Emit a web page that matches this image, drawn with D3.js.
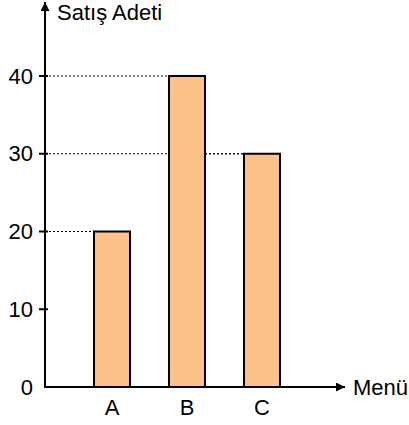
<!DOCTYPE html>
<html>
<head>
<meta charset="utf-8">
<script src="https://cdn.jsdelivr.net/npm/d3@7"></script>
<style>
  body { margin: 0; background: #fff; }
  text { font-family: "Liberation Sans", Arial, sans-serif; fill: #000; }
</style>
</head>
<body>
<div id="chart"></div>
<script>
// Data
const categories = ["A", "B", "C"];
const sales = [20, 40, 30];
const yTicks = [0, 10, 20, 30, 40];

const width = 409;
const height = 425;
const originX = 45;
const originY = 387;
const fontSize = "22px";

const svg = d3.select("#chart")
  .append("svg")
  .attr("width", width)
  .attr("height", height);

const defs = svg.append("defs");
defs.append("marker")
  .attr("id", "arrow")
  .attr("viewBox", "0 0 10 10")
  .attr("refX", 10)
  .attr("refY", 5)
  .attr("markerWidth", 12)
  .attr("markerHeight", 9)
  .attr("markerUnits", "userSpaceOnUse")
  .attr("orient", "auto")
  .append("path")
  .attr("d", "M0,0 L10,5 L0,10 Z")
  .attr("fill", "#000");

// Scales
const xScale = d3.scaleBand()
  .domain(categories)
  .range([74.5, 299.5])
  .paddingInner(0.52)
  .paddingOuter(0.26);

const yScale = d3.scaleLinear()
  .domain([0, 40])
  .range([originY, 76]);

// dotted guide lines from axis to the bar
const guides = svg.append("g");
categories.forEach((c, i) => {
  guides.append("line")
    .attr("x1", originX)
    .attr("x2", xScale(c))
    .attr("y1", yScale(sales[i]))
    .attr("y2", yScale(sales[i]))
    .attr("stroke", "#000")
    .attr("stroke-width", 1)
    .attr("stroke-dasharray", "2,2");
});
// 30 line continues between B and C
guides.append("line")
  .attr("x1", xScale("B") + xScale.bandwidth())
  .attr("x2", xScale("C"))
  .attr("y1", yScale(30))
  .attr("y2", yScale(30))
  .attr("stroke", "#000")
  .attr("stroke-width", 1)
  .attr("stroke-dasharray", "2,2");

// Bars
svg.append("g")
  .selectAll("rect")
  .data(sales)
  .join("rect")
  .attr("x", (d, i) => xScale(categories[i]))
  .attr("y", (d) => yScale(d))
  .attr("width", xScale.bandwidth())
  .attr("height", (d) => originY - yScale(d))
  .attr("fill", "#fcc187")
  .attr("stroke", "#000")
  .attr("stroke-width", 2);

// Y axis (labels only; ticks drawn below)
const yAxis = d3.axisLeft(yScale)
  .tickValues(yTicks)
  .tickSize(0)
  .tickPadding(12);

const yAxisGroup = svg.append("g")
  .attr("transform", `translate(${originX},0)`)
  .call(yAxis);
yAxisGroup.select(".domain").remove();
yAxisGroup.selectAll(".tick text").style("font-size", fontSize);

svg.append("g")
  .selectAll("line")
  .data(yTicks.filter((d) => d > 0))
  .join("line")
  .attr("x1", originX - 6)
  .attr("x2", originX + 3)
  .attr("y1", (d) => yScale(d))
  .attr("y2", (d) => yScale(d))
  .attr("stroke", "#000")
  .attr("stroke-width", 2);

svg.append("line")
  .attr("x1", originX)
  .attr("x2", originX)
  .attr("y1", originY + 1)
  .attr("y2", 2)
  .attr("stroke", "#000")
  .attr("stroke-width", 2)
  .attr("marker-end", "url(#arrow)");

svg.append("text")
  .attr("x", 57)
  .attr("y", 20)
  .style("font-size", fontSize)
  .text("Satış Adeti");

// X axis
const xAxis = d3.axisBottom(xScale).tickSize(0).tickPadding(12);
const xAxisGroup = svg.append("g")
  .attr("transform", `translate(0,${originY})`)
  .call(xAxis);
xAxisGroup.select(".domain").remove();
xAxisGroup.selectAll(".tick text").style("font-size", fontSize);

svg.append("line")
  .attr("x1", originX - 1)
  .attr("x2", 345)
  .attr("y1", originY)
  .attr("y2", originY)
  .attr("stroke", "#000")
  .attr("stroke-width", 2)
  .attr("marker-end", "url(#arrow)");

svg.append("text")
  .attr("x", 353)
  .attr("y", 395)
  .style("font-size", fontSize)
  .text("Menü");
</script>
</body>
</html>
